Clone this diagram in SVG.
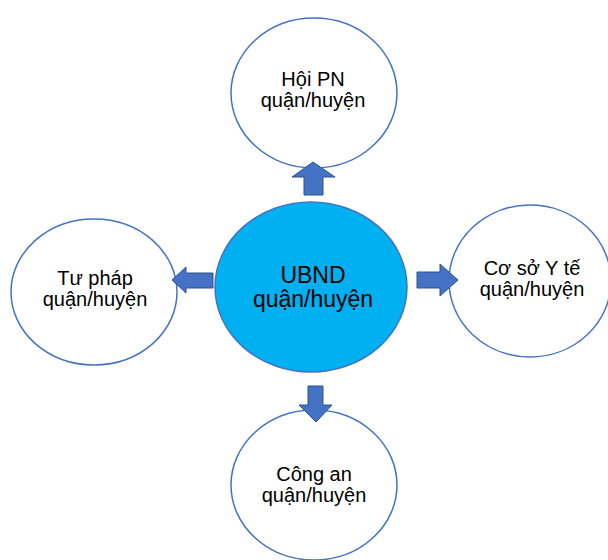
<svg xmlns="http://www.w3.org/2000/svg" width="608" height="560" viewBox="0 0 608 560">
<style>
.node{fill:#ffffff;stroke:#4472C4;stroke-width:1.5}
.center{fill:#00B0F0;stroke:#4472C4;stroke-width:1.5}
.arrow{fill:#4472C4;stroke:#2F528F;stroke-width:1}
text{font-family:"Liberation Sans",Arial,sans-serif;fill:#000000;text-anchor:middle}
.t{font-size:20px}
.tc{font-size:23px}
</style>
<rect width="608" height="560" fill="#ffffff"/>
<g id="node-hoipn">
<ellipse class="node" cx="314" cy="93" rx="83" ry="75"/>
<text class="t" x="313" y="86">Hội PN</text>
<text class="t" x="313" y="107">quận/huyện</text>
</g>
<g id="node-tuphap">
<ellipse class="node" cx="94" cy="292" rx="83" ry="73"/>
<text class="t" x="95" y="285">Tư pháp</text>
<text class="t" x="95" y="306">quận/huyện</text>
</g>
<g id="node-coso">
<ellipse class="node" cx="530" cy="281" rx="81" ry="76"/>
<text class="t" x="532" y="275">Cơ sở Y tế</text>
<text class="t" x="532" y="296">quận/huyện</text>
</g>
<g id="node-congan">
<ellipse class="node" cx="314" cy="485" rx="83" ry="75"/>
<text class="t" x="314" y="481">Công an</text>
<text class="t" x="314" y="502">quận/huyện</text>
</g>
<g id="node-ubnd">
<ellipse class="center" cx="311" cy="287" rx="96" ry="85"/>
<text class="tc" x="313" y="283">UBND</text>
<text class="tc" x="313" y="307">quận/huyện</text>
</g>
<g id="connectors">
<polygon class="arrow" points="313,162 335,177 323,177 323,195 304,195 304,177 292,177"/>
<polygon class="arrow" points="172,280 186,267 186,273 213,273 213,288 186,288 186,293"/>
<polygon class="arrow" points="458,280 440,264 440,272 417,272 417,288 440,288 440,296"/>
<polygon class="arrow" points="316,422 332,405 323,405 323,386 308,386 308,405 299,405"/>
</g>
</svg>
